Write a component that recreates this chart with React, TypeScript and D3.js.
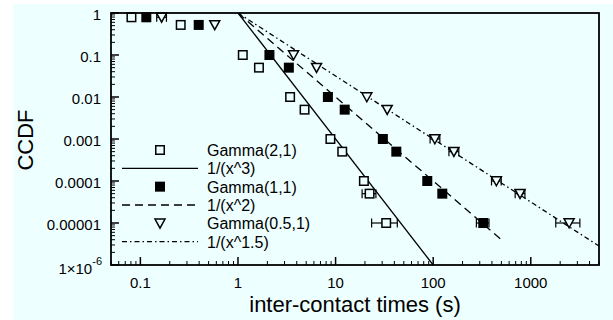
import React from "react";
import * as d3 from "d3";

// ---- data ----
const ccdfLevels = [0.79, 0.52, 0.1, 0.05, 0.01, 0.005, 0.001, 0.0005, 0.0001, 0.00005, 0.00001];
const gamma21X = [0.081, 0.259, 1.12, 1.64, 3.42, 4.81, 8.85, 11.7, 19.5, 22.3, 33.0];
const gamma11X = [0.115, 0.396, 2.1, 3.32, 8.34, 12.4, 30.5, 41.9, 87.0, 124, 326];
const gamma05X = [0.165, 0.578, 3.71, 6.38, 20.9, 33.8, 104, 163, 444, 776, 2470];
const gamma21Err: ([number, number] | null)[] = [null, null, null, null, null, null, null, null, null, [18.7, 25.9], [23.4, 42.9]];
const gamma11Err: ([number, number] | null)[] = [null, null, null, null, null, null, null, null, null, null, [277, 373]];
const gamma05Err: ([number, number] | null)[] = [[0.147, 0.185], null, null, null, null, null, [93, 117], [145, 183], [396, 498], [692, 871], [1803, 3184]];

const fitExponents = [3, 2, 1.5];
const fitXEnd = [100, 500, 5000];
const fitDash = ["none", "8,5", "5,3,1.5,3"];

const legendLabels = ["Gamma(2,1)", "1/(x^3)", "Gamma(1,1)", "1/(x^2)", "Gamma(0.5,1)", "1/(x^1.5)"];
const xTickValues = [0.1, 1, 10, 100, 1000];
const xTickLabels = ["0.1", "1", "10", "100", "1000"];
const yTickValues = [1, 0.1, 0.01, 0.001, 0.0001, 0.00001];
const yTickLabels = ["1", "0.1", "0.01", "0.001", "0.0001", "0.00001"];

const BG = "#eeffff";
const FONT = "'Liberation Sans', Arial, Helvetica, sans-serif";

const L = 111, R = 599, T = 13, B = 265;

export default function App() {
  const x = d3.scaleLog().domain([0.05, 5000]).range([L, R]);
  const y = d3.scaleLog().domain([1e-6, 1]).range([B, T]);

  const xMinor: number[] = [];
  for (let e = -2; e <= 3; e++) for (let k = 2; k <= 9; k++) {
    const v = k * Math.pow(10, e);
    if (v >= 0.05 && v <= 5000) xMinor.push(v);
  }
  const yMinor: number[] = [];
  for (let e = -6; e <= -1; e++) for (let k = 2; k <= 9; k++) yMinor.push(k * Math.pow(10, e));

  const line = d3.line<[number, number]>().x(d => x(d[0])).y(d => y(d[1]));

  const series = [
    { xs: gamma21X, err: gamma21Err, type: "open" },
    { xs: gamma11X, err: gamma11Err, type: "filled" },
    { xs: gamma05X, err: gamma05Err, type: "tri" },
  ];

  const marker = (type: string, cx: number, cy: number, key: string) => {
    if (type === "open")
      return <rect key={key} x={cx - 4.25} y={cy - 4.25} width={8.5} height={8.5} fill={BG} stroke="#000" strokeWidth={1.5} />;
    if (type === "filled")
      return <rect key={key} x={cx - 5} y={cy - 5} width={10} height={10} fill="#000" />;
    return <path key={key} d={`M${cx - 5},${cy - 4.2}L${cx + 5},${cy - 4.2}L${cx},${cy + 4.8}Z`} fill={BG} stroke="#000" strokeWidth={1.5} strokeLinejoin="miter" />;
  };

  const legendY0 = 150, legendStep = 18.33;

  return (
    <svg width={613} height={320} style={{ position: "absolute", left: 0, top: 0 }} fontFamily={FONT}>
      <rect x={0} y={0} width={613} height={320} fill="#fff" />
      <rect x={13} y={4} width={600} height={316} fill={BG} />

      {/* fit lines */}
      {fitExponents.map((k, i) => (
        <path key={"fit" + i}
          d={line([[1, 1], [fitXEnd[i], Math.pow(fitXEnd[i], -k)]]) || ""}
          fill="none" stroke="#000" strokeWidth={1.3} strokeDasharray={fitDash[i]} />
      ))}

      {/* error bars */}
      {series.map((s, si) => s.err.map((e, i) => e ? (
        <g key={`e${si}-${i}`} stroke="#000" strokeWidth={1.2}>
          <line x1={x(e[0])} x2={x(e[1])} y1={y(ccdfLevels[i])} y2={y(ccdfLevels[i])} />
          <line x1={x(e[0])} x2={x(e[0])} y1={y(ccdfLevels[i]) - 4.5} y2={y(ccdfLevels[i]) + 4.5} />
          <line x1={x(e[1])} x2={x(e[1])} y1={y(ccdfLevels[i]) - 4.5} y2={y(ccdfLevels[i]) + 4.5} />
        </g>
      ) : null))}

      {/* markers */}
      {series.map((s, si) => s.xs.map((v, i) => marker(s.type, x(v), y(ccdfLevels[i]), `m${si}-${i}`)))}

      {/* frame */}
      <rect x={L} y={T} width={R - L} height={B - T} fill="none" stroke="#000" strokeWidth={1.8} />

      {/* x ticks */}
      {xTickValues.map(v => <line key={"xt" + v} x1={x(v)} x2={x(v)} y1={B} y2={B - 8} stroke="#000" strokeWidth={1.5} />)}
      {xMinor.map(v => <line key={"xm" + v} x1={x(v)} x2={x(v)} y1={B} y2={B - 4} stroke="#000" strokeWidth={1} />)}
      {xTickValues.map((v, i) => (
        <text key={"xl" + v} x={x(v)} y={288} textAnchor="middle" fontSize={15}>{xTickLabels[i]}</text>
      ))}

      {/* y ticks */}
      {[...yTickValues, 1e-6].map(v => <line key={"yt" + v} x1={L} x2={L + 8} y1={y(v)} y2={y(v)} stroke="#000" strokeWidth={1.5} />)}
      {yMinor.map(v => <line key={"ym" + v} x1={L} x2={L + 4} y1={y(v)} y2={y(v)} stroke="#000" strokeWidth={1} />)}
      {yTickValues.map((v, i) => (
        <text key={"yl" + v} x={101} y={y(v) + 7} textAnchor="end" fontSize={15}>{yTickLabels[i]}</text>
      ))}
      <text x={102} y={y(1e-6) + 9} textAnchor="end" fontSize={15}>
        1×10<tspan fontSize={11} dy={-9}>-6</tspan>
      </text>

      {/* axis titles */}
      <text x={(L + R) / 2} y={312} textAnchor="middle" fontSize={22}>inter-contact times (s)</text>
      <text transform={`translate(33,${(T + B) / 2 + 1}) rotate(-90)`} textAnchor="middle" fontSize={22}>CCDF</text>

      {/* legend */}
      {legendLabels.map((lab, i) => {
        const ly = legendY0 + i * legendStep;
        const sym = i % 2 === 0
          ? marker(series[i / 2].type, 160, ly, "lg" + i)
          : <line key={"lgl" + i} x1={122} x2={198} y1={ly} y2={ly} stroke="#000" strokeWidth={1.3} strokeDasharray={fitDash[(i - 1) / 2]} />;
        return (
          <g key={"leg" + i}>
            {sym}
            <text x={207} y={ly + 6} fontSize={16}>{lab}</text>
          </g>
        );
      })}
    </svg>
  );
}
